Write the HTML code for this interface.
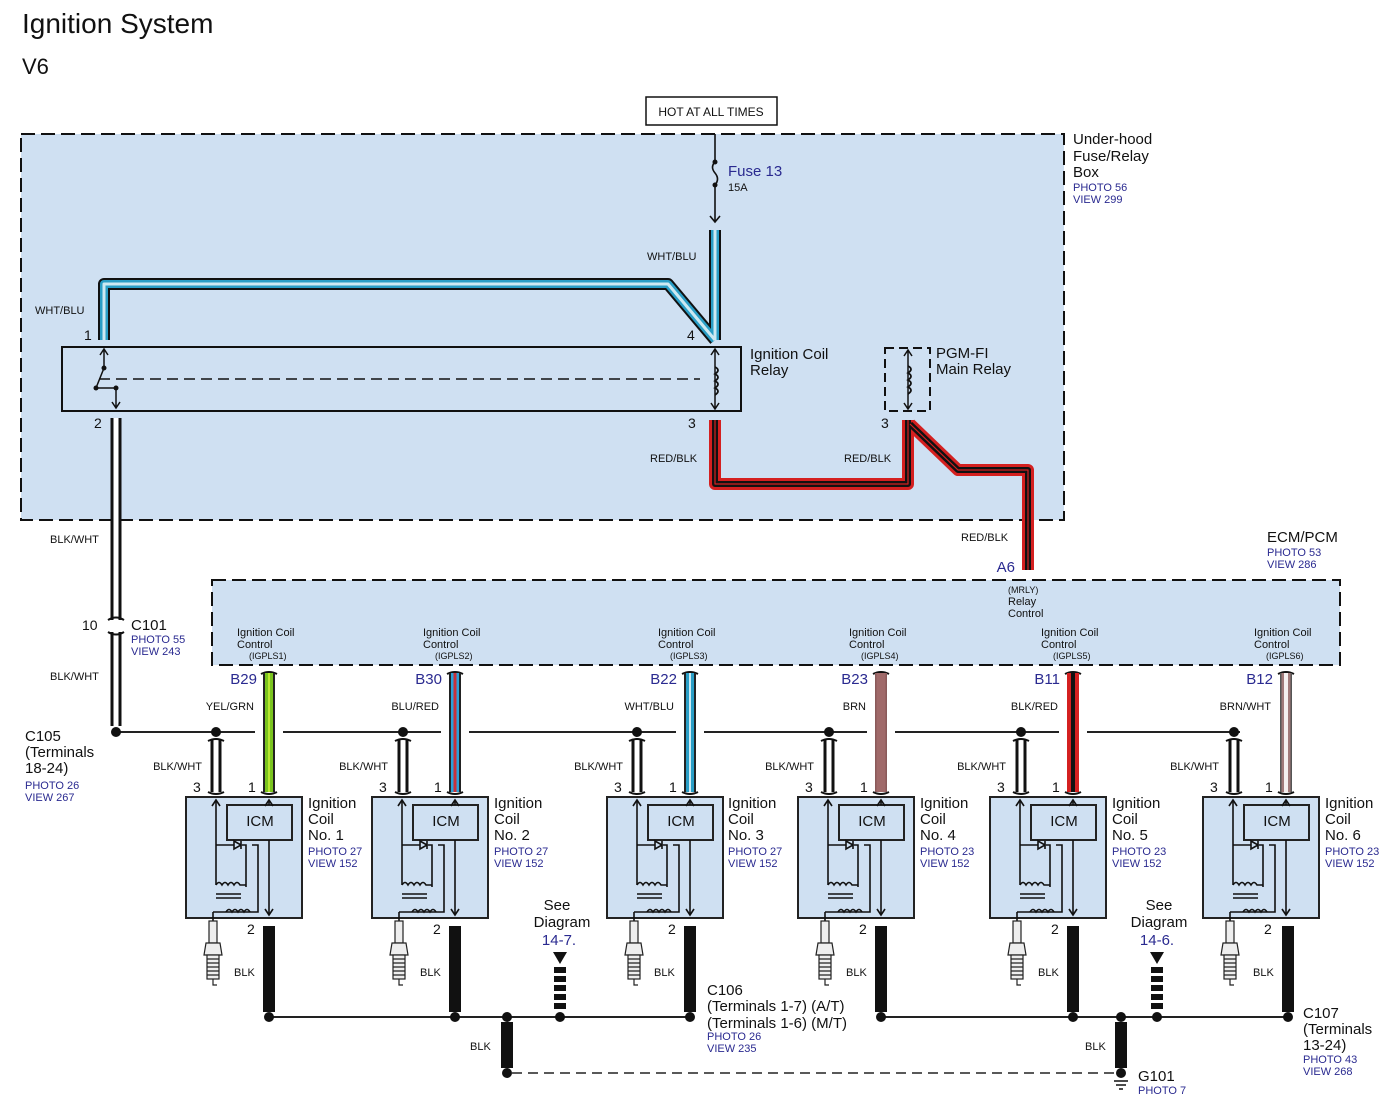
<!DOCTYPE html>
<html><head><meta charset="utf-8"><style>
html,body{margin:0;padding:0;background:#fff}
svg{display:block}
text{font-family:"Liberation Sans",sans-serif;fill:#111}
.b{fill:#2a2a90}
.s{font-size:11px}
.m{font-size:15px}
</style></head><body>
<svg width="1392" height="1103" viewBox="0 0 1392 1103" xmlns="http://www.w3.org/2000/svg">
<defs>
<g id="coil">
 <rect x="0" y="0" width="116" height="121" fill="#cfe0f2" stroke="#222" stroke-width="2"/>
 <rect x="41" y="8" width="65" height="35" fill="#cfe0f2" stroke="#222" stroke-width="2"/>
 <g stroke="#111" stroke-width="1.6" fill="none">
  <path d="M30 3 V88"/><path d="M26 9 L30 3 L34 9"/>
  <path d="M83 3 V8"/><path d="M79 9 L83 3 L87 9"/>
  <path d="M83 43 V118"/><path d="M79 112 L83 118 L87 112"/>
  <path d="M30 48 H48 M56 48 H60 V90 M48 44 V52 M48 44 L55 48 L48 52 Z M55 44 V52"/>
  <path d="M66 48 H72 V115 H40"/>
  <path d="M30 88 q3 -5 6 0 q3 -5 6 0 q3 -5 6 0 q3 -5 6 0 H60"/>
  <path d="M30 97 H55 M30 101 H55"/>
  <path d="M40 115 q3 -5 6 0 q3 -5 6 0 q3 -5 6 0 q3 -5 6 0"/>
  <path d="M27 115 H40 M27 115 V124"/>
 </g>
 <g stroke="#222" stroke-width="1.2" fill="#eee">
  <rect x="23" y="124" width="8" height="22"/>
  <path d="M20 146 H34 L36 158 H18 Z"/>
  <rect x="21" y="158" width="12" height="24"/>
  <path d="M21 162 H33 M21 166 H33 M21 170 H33 M21 174 H33 M21 178 H33" fill="none"/>
  <path d="M27 182 V188 H31" fill="none"/>
 </g>
</g>
</defs>

<text x="22" y="33" style="font-size:28px">Ignition System</text>
<text x="22" y="74" style="font-size:22px">V6</text>

<rect x="21" y="134" width="1043" height="386" fill="#cfe0f2" stroke="#111" stroke-width="2" stroke-dasharray="14,6"/>
<rect x="646" y="97" width="131" height="28" fill="#fff" stroke="#111" stroke-width="1.5"/>
<text x="711" y="116" text-anchor="middle" style="font-size:12px">HOT AT ALL TIMES</text>
<text x="1073" y="144" style="font-size:15px">Under-hood</text>
<text x="1073" y="161" style="font-size:15px">Fuse/Relay</text>
<text x="1073" y="177" style="font-size:15px">Box</text>
<text x="1073" y="191" class="b s">PHOTO 56</text>
<text x="1073" y="203" class="b s">VIEW 299</text>

<g stroke="#111" stroke-width="1.6" fill="none">
 <path d="M715 134 V162 M715 185 V222 M710 216 L715 222 L720 216"/>
 <path d="M715 162 q-5 5 0 11 q5 6 0 12"/>
</g>
<circle cx="715" cy="162" r="2.5" fill="#111"/><circle cx="715" cy="185" r="2.5" fill="#111"/>
<text x="728" y="176" class="b" style="font-size:15px">Fuse 13</text>
<text x="728" y="191" class="s">15A</text>

<g fill="none" stroke-linejoin="round">
 <path d="M715 230 V340 M715 340 L668 284 H104 V340" stroke="#111" stroke-width="12"/>
 <path d="M715 230 V340 M715 340 L668 284 H104 V340" stroke="#2a9ec6" stroke-width="8"/>
 <path d="M715 230 V340 M715 340 L668 284 H104 V340" stroke="#cde9f2" stroke-width="3"/>
</g>
<text x="647" y="260" class="s">WHT/BLU</text>
<text x="35" y="314" class="s">WHT/BLU</text>
<text x="84" y="340" style="font-size:14px">1</text>
<text x="687" y="340" style="font-size:14px">4</text>

<rect x="62" y="347" width="679" height="64" fill="#cfe0f2" stroke="#111" stroke-width="2"/>
<g stroke="#111" stroke-width="1.5" fill="none">
 <path d="M104 349 V368 M100 355 L104 349 L108 355"/>
 <path d="M104 368 L96 388 M96 388 H116 V408 M112 402 L116 408 L120 402" />
 <path d="M99 379 H700" stroke-dasharray="11,6"/>
 <path d="M715 349 V409 M711 355 L715 349 L719 355 M711 403 L715 409 L719 403"/>
 <path d="M715 367 q6 3 0 7 q6 3 0 7 q6 3 0 7 q6 3 0 7" stroke-width="1.8"/>
</g>
<circle cx="104" cy="368" r="2.5" fill="#111"/><circle cx="96" cy="388" r="2.5" fill="#111"/><circle cx="116" cy="388" r="2.5" fill="#111"/>
<text x="750" y="359" style="font-size:15px">Ignition Coil</text>
<text x="750" y="375" style="font-size:15px">Relay</text>

<rect x="885" y="348" width="45" height="63" fill="none" stroke="#111" stroke-width="2" stroke-dasharray="9,5"/>
<g stroke="#111" stroke-width="1.5" fill="none">
 <path d="M908 350 V409 M904 356 L908 350 L912 356 M904 403 L908 409 L912 403"/>
 <path d="M908 366 q6 3 0 7 q6 3 0 7 q6 3 0 7 q6 3 0 7" stroke-width="1.8"/>
</g>
<text x="936" y="358" style="font-size:15px">PGM-FI</text>
<text x="936" y="374" style="font-size:15px">Main Relay</text>

<text x="94" y="428" style="font-size:14px">2</text>
<text x="688" y="428" style="font-size:14px">3</text>
<text x="881" y="428" style="font-size:14px">3</text>

<g fill="none" stroke-linejoin="round">
 <path d="M715 420 V484 H908 V420 M910 424 L958 470 H1028 V570" stroke="#d42020" stroke-width="12"/>
 <path d="M715 420 V484 H908 V420 M910 424 L958 470 H1028 V570" stroke="#111" stroke-width="6"/>
 <path d="M715 420 V484 H908 V420 M910 424 L958 470 H1028 V570" stroke="#d42020" stroke-width="1.2"/>
</g>
<text x="650" y="462" class="s">RED/BLK</text>
<text x="844" y="462" class="s">RED/BLK</text>
<text x="961" y="541" class="s">RED/BLK</text>

<g fill="none">
 <path d="M116 418 V620 M116 632 V726" stroke="#111" stroke-width="11"/>
 <path d="M116 418 V620 M116 632 V726" stroke="#fff" stroke-width="5"/>
 <path d="M108 620 q8 -5 16 0 M108 632 q8 5 16 0" stroke="#111" stroke-width="2"/>
</g>
<text x="50" y="543" class="s">BLK/WHT</text>
<text x="82" y="630" style="font-size:14px">10</text>
<text x="131" y="630" style="font-size:15px">C101</text>
<text x="131" y="643" class="b s">PHOTO 55</text>
<text x="131" y="655" class="b s">VIEW 243</text>
<text x="50" y="680" class="s">BLK/WHT</text>
<text x="25" y="741" style="font-size:15px">C105</text>
<text x="25" y="757" style="font-size:15px">(Terminals</text>
<text x="25" y="773" style="font-size:15px">18-24)</text>
<text x="25" y="789" class="b s">PHOTO 26</text>
<text x="25" y="801" class="b s">VIEW 267</text>

<rect x="212" y="580" width="1128" height="85" fill="#cfe0f2" stroke="#111" stroke-width="2" stroke-dasharray="14,6"/>
<text x="1267" y="542" style="font-size:15px">ECM/PCM</text>
<text x="1267" y="556" class="b s">PHOTO 53</text>
<text x="1267" y="568" class="b s">VIEW 286</text>
<text x="1015" y="572" class="b" style="font-size:15px" text-anchor="end">A6</text>
<text x="1008" y="593" style="font-size:9px">(MRLY)</text>
<text x="1008" y="605" style="font-size:11px">Relay</text>
<text x="1008" y="617" style="font-size:11px">Control</text>

<path d="M116 732 H255 M283 732 H441 M469 732 H676 M704 732 H867 M895 732 H1059 M1087 732 H1240" stroke="#222" stroke-width="2" fill="none"/>
<g fill="#111">
<circle cx="116" cy="732" r="5"/><circle cx="216" cy="732" r="5"/><circle cx="403" cy="732" r="5"/><circle cx="637" cy="732" r="5"/><circle cx="829" cy="732" r="5"/><circle cx="1021" cy="732" r="5"/><circle cx="1234" cy="732" r="5"/>
</g>

<g fill="none">
 <path d="M216 740 V792 M403 740 V792 M637 740 V792 M829 740 V792 M1021 740 V792 M1234 740 V792" stroke="#111" stroke-width="11"/>
 <path d="M216 740 V792 M403 740 V792 M637 740 V792 M829 740 V792 M1021 740 V792 M1234 740 V792" stroke="#fff" stroke-width="5"/>
 <path d="M208 741 q8 -4 16 0 M208 792 q8 4 16 0 M395 741 q8 -4 16 0 M395 792 q8 4 16 0 M629 741 q8 -4 16 0 M629 792 q8 4 16 0 M821 741 q8 -4 16 0 M821 792 q8 4 16 0 M1013 741 q8 -4 16 0 M1013 792 q8 4 16 0 M1226 741 q8 -4 16 0 M1226 792 q8 4 16 0" stroke="#111" stroke-width="2"/>
 <path d="M261 674 q8 -4 16 0 M261 792 q8 4 16 0 M447 674 q8 -4 16 0 M447 792 q8 4 16 0 M682 674 q8 -4 16 0 M682 792 q8 4 16 0 M873 674 q8 -4 16 0 M873 792 q8 4 16 0 M1065 674 q8 -4 16 0 M1065 792 q8 4 16 0 M1278 674 q8 -4 16 0 M1278 792 q8 4 16 0" stroke="#111" stroke-width="2"/>
</g>

<g fill="none">
 <path d="M269 673 V792" stroke="#222" stroke-width="12"/><path d="M269 673 V792" stroke="#7ac41e" stroke-width="8"/><path d="M269 673 V792" stroke="#b9e830" stroke-width="2"/>
 <path d="M455 673 V792" stroke="#222" stroke-width="12"/><path d="M455 673 V792" stroke="#2aa0d8" stroke-width="8"/><path d="M455 673 V792" stroke="#c8303a" stroke-width="3"/>
 <path d="M690 673 V792" stroke="#222" stroke-width="12"/><path d="M690 673 V792" stroke="#2a9ec6" stroke-width="8"/><path d="M690 673 V792" stroke="#cde9f2" stroke-width="2"/>
 <path d="M881 673 V792" stroke="#8a5a5a" stroke-width="12"/><path d="M881 673 V792" stroke="#a06a6a" stroke-width="9"/>
 <path d="M1073 673 V792" stroke="#d42020" stroke-width="12"/><path d="M1073 673 V792" stroke="#111" stroke-width="4"/>
 <path d="M1286 673 V792" stroke="#555" stroke-width="12"/><path d="M1286 673 V792" stroke="#a07878" stroke-width="9"/><path d="M1286 673 V792" stroke="#f4eeee" stroke-width="4"/>
</g>

<g style="font-size:11px">
<text x="237" y="636">Ignition Coil</text><text x="237" y="648">Control</text><text x="249" y="659" style="font-size:9px">(IGPLS1)</text>
<text x="423" y="636">Ignition Coil</text><text x="423" y="648">Control</text><text x="435" y="659" style="font-size:9px">(IGPLS2)</text>
<text x="658" y="636">Ignition Coil</text><text x="658" y="648">Control</text><text x="670" y="659" style="font-size:9px">(IGPLS3)</text>
<text x="849" y="636">Ignition Coil</text><text x="849" y="648">Control</text><text x="861" y="659" style="font-size:9px">(IGPLS4)</text>
<text x="1041" y="636">Ignition Coil</text><text x="1041" y="648">Control</text><text x="1053" y="659" style="font-size:9px">(IGPLS5)</text>
<text x="1254" y="636">Ignition Coil</text><text x="1254" y="648">Control</text><text x="1266" y="659" style="font-size:9px">(IGPLS6)</text>
</g>
<g class="b" style="font-size:15px" text-anchor="end">
<text x="257" y="684" class="b">B29</text><text x="442" y="684" class="b">B30</text><text x="677" y="684" class="b">B22</text><text x="868" y="684" class="b">B23</text><text x="1060" y="684" class="b">B11</text><text x="1273" y="684" class="b">B12</text>
</g>
<g class="s" text-anchor="end">
<text x="254" y="710">YEL/GRN</text><text x="439" y="710">BLU/RED</text><text x="674" y="710">WHT/BLU</text><text x="866" y="710">BRN</text><text x="1058" y="710">BLK/RED</text><text x="1271" y="710">BRN/WHT</text>
<text x="202" y="770">BLK/WHT</text><text x="388" y="770">BLK/WHT</text><text x="623" y="770">BLK/WHT</text><text x="814" y="770">BLK/WHT</text><text x="1006" y="770">BLK/WHT</text><text x="1219" y="770">BLK/WHT</text>
</g>

<use href="#coil" x="186" y="797"/>
<use href="#coil" x="372" y="797"/>
<use href="#coil" x="607" y="797"/>
<use href="#coil" x="798" y="797"/>
<use href="#coil" x="990" y="797"/>
<use href="#coil" x="1203" y="797"/>

<g style="font-size:14px">
<text x="193" y="792">3</text><text x="248" y="792">1</text><text x="247" y="934">2</text>
<text x="379" y="792">3</text><text x="434" y="792">1</text><text x="433" y="934">2</text>
<text x="614" y="792">3</text><text x="669" y="792">1</text><text x="668" y="934">2</text>
<text x="805" y="792">3</text><text x="860" y="792">1</text><text x="859" y="934">2</text>
<text x="997" y="792">3</text><text x="1052" y="792">1</text><text x="1051" y="934">2</text>
<text x="1210" y="792">3</text><text x="1265" y="792">1</text><text x="1264" y="934">2</text>
</g>
<g style="font-size:15px" text-anchor="middle">
<text x="260" y="826">ICM</text><text x="446" y="826">ICM</text><text x="681" y="826">ICM</text><text x="872" y="826">ICM</text><text x="1064" y="826">ICM</text><text x="1277" y="826">ICM</text>
</g>
<g style="font-size:15px">
<text x="308" y="808">Ignition</text><text x="308" y="824">Coil</text><text x="308" y="840">No. 1</text>
<text x="494" y="808">Ignition</text><text x="494" y="824">Coil</text><text x="494" y="840">No. 2</text>
<text x="728" y="808">Ignition</text><text x="728" y="824">Coil</text><text x="728" y="840">No. 3</text>
<text x="920" y="808">Ignition</text><text x="920" y="824">Coil</text><text x="920" y="840">No. 4</text>
<text x="1112" y="808">Ignition</text><text x="1112" y="824">Coil</text><text x="1112" y="840">No. 5</text>
<text x="1325" y="808">Ignition</text><text x="1325" y="824">Coil</text><text x="1325" y="840">No. 6</text>
</g>
<g class="b s">
<text x="308" y="855" class="b">PHOTO 27</text><text x="308" y="867" class="b">VIEW 152</text>
<text x="494" y="855" class="b">PHOTO 27</text><text x="494" y="867" class="b">VIEW 152</text>
<text x="728" y="855" class="b">PHOTO 27</text><text x="728" y="867" class="b">VIEW 152</text>
<text x="920" y="855" class="b">PHOTO 23</text><text x="920" y="867" class="b">VIEW 152</text>
<text x="1112" y="855" class="b">PHOTO 23</text><text x="1112" y="867" class="b">VIEW 152</text>
<text x="1325" y="855" class="b">PHOTO 23</text><text x="1325" y="867" class="b">VIEW 152</text>
</g>

<path d="M269 926 V1012 M455 926 V1012 M690 926 V1012 M881 926 V1012 M1073 926 V1012 M1288 926 V1012 M507 1022 V1068 M1121 1022 V1068" stroke="#111" stroke-width="12" fill="none"/>
<g class="s">
<text x="234" y="976">BLK</text><text x="420" y="976">BLK</text><text x="654" y="976">BLK</text><text x="846" y="976">BLK</text><text x="1038" y="976">BLK</text><text x="1253" y="976">BLK</text>
<text x="470" y="1050">BLK</text><text x="1085" y="1050">BLK</text>
</g>
<path d="M269 1017 H690 M881 1017 H1288" stroke="#222" stroke-width="2"/>
<path d="M512 1073 H1114" stroke="#222" stroke-width="1.6" stroke-dasharray="10,6"/>
<g fill="#111">
<circle cx="269" cy="1017" r="5"/><circle cx="455" cy="1017" r="5"/><circle cx="507" cy="1017" r="5"/><circle cx="560" cy="1017" r="5"/><circle cx="690" cy="1017" r="5"/>
<circle cx="881" cy="1017" r="5"/><circle cx="1073" cy="1017" r="5"/><circle cx="1121" cy="1017" r="5"/><circle cx="1157" cy="1017" r="5"/><circle cx="1288" cy="1017" r="5"/>
<circle cx="507" cy="1073" r="5"/><circle cx="1121" cy="1073" r="5"/>
</g>
<path d="M1114 1081 H1128 M1116 1085 H1126 M1119 1089 H1123" stroke="#111" stroke-width="1.5"/>

<path d="M553 952 H567 L560 964 Z M1150 952 H1164 L1157 964 Z" fill="#111"/>
<path d="M560 967 V1011 M1157 967 V1011" stroke="#111" stroke-width="12" stroke-dasharray="6,3"/>
<text x="557" y="910" text-anchor="middle" style="font-size:15px">See</text>
<text x="562" y="927" text-anchor="middle" style="font-size:15px">Diagram</text>
<text x="559" y="945" text-anchor="middle" class="b" style="font-size:15px">14-7.</text>
<text x="1159" y="910" text-anchor="middle" style="font-size:15px">See</text>
<text x="1159" y="927" text-anchor="middle" style="font-size:15px">Diagram</text>
<text x="1157" y="945" text-anchor="middle" class="b" style="font-size:15px">14-6.</text>

<g style="font-size:15px">
<text x="707" y="995">C106</text>
<text x="707" y="1011">(Terminals 1-7) (A/T)</text>
<text x="707" y="1028">(Terminals 1-6) (M/T)</text>
<text x="1303" y="1018">C107</text>
<text x="1303" y="1034">(Terminals</text>
<text x="1303" y="1050">13-24)</text>
<text x="1138" y="1081">G101</text>
</g>
<g class="b s">
<text x="707" y="1040" class="b">PHOTO 26</text><text x="707" y="1052" class="b">VIEW 235</text>
<text x="1303" y="1063" class="b">PHOTO 43</text><text x="1303" y="1075" class="b">VIEW 268</text>
<text x="1138" y="1094" class="b">PHOTO 7</text>
</g>
</svg>
</body></html>
